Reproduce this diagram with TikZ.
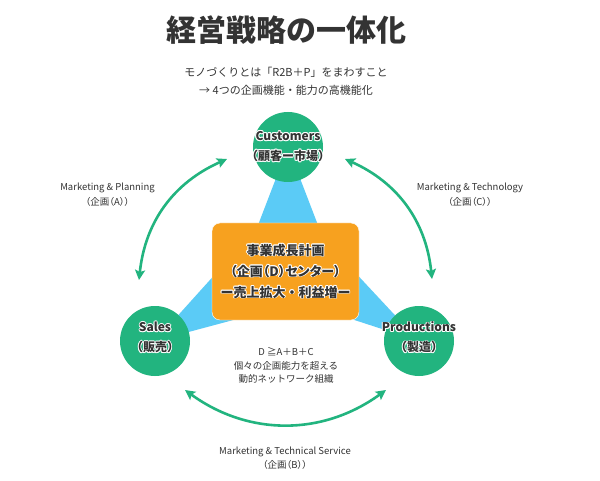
\documentclass[tikz,border=0pt]{standalone}
\usepackage{fontspec}
\setmainfont{Noto Sans CJK JP}
\newfontfamily\propfont{Noto Sans CJK JP}[RawFeature=+palt]
\usepackage[copies]{contour}
\contourlength{0.9pt}
\contournumber{8}
\usetikzlibrary{arrows.meta}
\definecolor{kgreen}{HTML}{22B47F}
\definecolor{kblue}{HTML}{5BCBF6}
\definecolor{korange}{HTML}{F7A11F}
\definecolor{ktext}{HTML}{333333}
\newcommand{\halo}[1]{\contour{white}{#1}}
\tikzset{%
  role circle/.style = {circle, fill=kgreen, minimum size=70pt, inner sep=0pt},
  role text/.style = {font=\fontsize{12}{20}\selectfont\bfseries, align=center, text=ktext},
  small label/.style = {font=\propfont\fontsize{9.5}{14.5}\selectfont, align=center, text=ktext},
  link arrow/.style = {line width=2.6pt, draw=kgreen,
    {Stealth[length=10pt,width=10pt,inset=2pt]}-{Stealth[length=10pt,width=10pt,inset=2pt]}},
  wedge/.style = {fill=kblue}
}

\begin{document}
\begin{tikzpicture}[x=1pt,y=-1pt]
\useasboundingbox[fill=white] (0,0) rectangle (600,481);
% title
\node[font=\fontsize{30}{30}\selectfont\bfseries, text=ktext] (title) at (286,30) {経営戦略の一体化};
\node[font=\fontsize{11}{18}\selectfont, text=ktext, align=center] (sub) at (286,81)
  {モノづくりとは「R2B＋P」をまわすこと\\→ 4つの企画機能・能力の高機能化};
% centres of the three roles
\coordinate (cC) at (288,147);
\coordinate (cS) at (155,341);
\coordinate (cP) at (419,341);
% blue wedges
\fill[wedge] (cC) -- +(111:110) -- +(69:110) -- cycle;
\fill[wedge] (cS) -- +(-48:150) -- +(-15:150) -- cycle;
\fill[wedge] (cP) -- +(-133:150) -- +(-162:150) -- cycle;
% plan box
\node[draw=white, fill=korange, rounded corners=8pt, minimum width=147pt, minimum height=97pt,
  role text, font=\fontsize{13}{21}\selectfont\bfseries] (plan) at (285.5,271.5)
  {\halo{事業成長計画}\\\halo{\propfont（企画（D）センター）}\\\halo{ー売上拡大・利益増ー}};
% roles
\node[role circle, label={[role text]center:{\halo{Customers}\\\halo{（顧客ー市場）}}}] (cust) at (cC) {};
\node[role circle, label={[role text, yshift=3pt]center:{\halo{Sales}\\\halo{（販売）}}}] (sales) at (cS) {};
\node[role circle, label={[role text, yshift=3pt]center:{\halo{Productions}\\\halo{（製造）}}}] (prod) at (cP) {};
% arrows
\coordinate (mpA) at (139,280);
\coordinate (mpB) at (227,159);
\draw[link arrow] (mpA) to[bend left=30] (mpB);
\coordinate (mtA) at (345,159);
\coordinate (mtB) at (432,279);
\draw[link arrow] (mtA) to[bend left=30] (mtB);
\coordinate (tsA) at (185,390);
\coordinate (tsB) at (386,390);
\draw[link arrow] (tsA) to[bend right=36] (tsB);
% labels
\node[small label] (mp) at (107.5,194.5) {Marketing \& Planning\\（企画（A））};
\node[small label] (mt) at (470,194.5) {Marketing \& Technology\\（企画（C））};
\node[small label] (mts) at (285,458) {Marketing \& Technical Service\\（企画（B））};
\node[small label, font=\fontsize{9.5}{13.5}\selectfont] (net) at (286,365.5)
  {D ≧A＋B＋C\\個々の企画能力を超える\\動的ネットワーク組織};
\end{tikzpicture}
\end{document}
